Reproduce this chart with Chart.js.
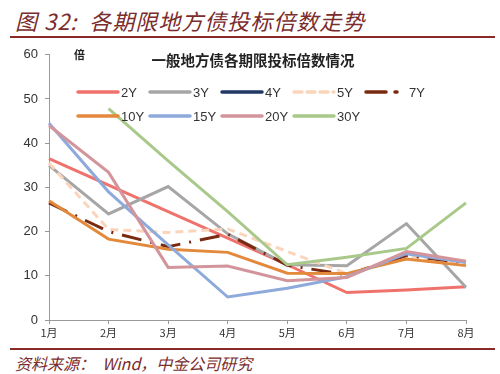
<!DOCTYPE html>
<html>
<head>
<meta charset="utf-8">
<script src="https://cdn.jsdelivr.net/npm/chart.js@4"></script>
<style>
    body { margin: 0; background: #fff; width: 500px; height: 374px; overflow: hidden; position: relative; }
    .fig-title {
        position: absolute; left: 15px; top: 4px;
        font: italic 22px "Noto Sans CJK SC", sans-serif;
        color: #7b2c2c; white-space: nowrap; letter-spacing: 1px;
    }
    .rule { position: absolute; left: 10px; width: 485px; height: 2px; background: #8b2a2a; }
    .source {
        position: absolute; left: 15px; top: 351px;
        font: italic 16px "Noto Sans CJK SC", sans-serif;
        color: #7b2c2c; white-space: nowrap;
    }
    #wrap { position: absolute; left: 0; top: 40px; width: 500px; height: 300px; }
</style>
</head>
<body>
<div class="fig-title">图 32:&nbsp; 各期限地方债投标倍数走势</div>
<div class="rule" style="top:36px"></div>
<div id="wrap"><canvas id="chart"></canvas></div>
<div class="rule" style="top:348px;height:1.5px"></div>
<div class="source">资料来源：&nbsp; Wind，中金公司研究</div>

<script>
// 数据
const months = ['1月', '2月', '3月', '4月', '5月', '6月', '7月', '8月'];
const y2 = [36.5, 30.5, 24.5, 18.5, 12.5, 6.2, 6.8, 7.5];
const y3 = [35, 24, 30.2, 19.5, 12.5, 12.3, 21.8, 7.4];
const y4 = [null, null, null, null, null, null, null, null];
const y5 = [35.5, 20.5, 19.8, 20.6, 15.5, 10.5, 14.5, 12.8];
const y7 = [26.5, 20, 16.6, 19.4, 12.4, 10.2, 14.6, 12.9];
const y10 = [27, 18.3, 16, 15.3, 10.6, 10.5, 13.8, 12.3];
const y15 = [44.5, 29, 17, 5.2, 7.2, 9.8, 15, 13];
const y20 = [44, 33.4, 11.9, 12.2, 8.9, 9.6, 15.5, 13.3];
const y30 = [null, 47.8, 36, 24.5, 12.5, 14.2, 16.2, 26.5];
const yTicks = [0, 10, 20, 30, 40, 50, 60];

const series = [
    { label: '2Y', data: y2, color: '#f0726c', dash: [] },
    { label: '3Y', data: y3, color: '#a6a6a6', dash: [] },
    { label: '4Y', data: y4, color: '#1f3864', dash: [] },
    { label: '5Y', data: y5, color: '#f9d5bc', dash: [8, 5] },
    { label: '7Y', data: y7, color: '#7b2a12', dash: [20, 9, 2, 9] },
    { label: '10Y', data: y10, color: '#e3893c', dash: [] },
    { label: '15Y', data: y15, color: '#8eaadb', dash: [] },
    { label: '20Y', data: y20, color: '#d3959b', dash: [] },
    { label: '30Y', data: y30, color: '#a9c98b', dash: [] },
];

// 图例和图内标题，画在绘图区里面
const innerLegend = {
    id: 'innerLegend',
    afterDraw(chart) {
        const ctx = chart.ctx;
        ctx.save();
        ctx.fillStyle = '#222';
        ctx.textBaseline = 'middle';
        ctx.font = 'bold 11px "Noto Sans CJK SC"';
        ctx.textAlign = 'left';
        ctx.fillText('倍', 74, 15);
        ctx.font = 'bold 14.5px "Noto Sans CJK SC"';
        ctx.textAlign = 'center';
        ctx.fillText('一般地方债各期限投标倍数情况', 253, 20);

        ctx.font = '13px "Liberation Sans", Arial';
        ctx.textAlign = 'left';
        series.forEach((s, i) => {
            const row = i < 5 ? 0 : 1;
            const col = i < 5 ? i : i - 5;
            const x = 78 + col * 72;
            const y = row === 0 ? 52 : 76;
            ctx.strokeStyle = s.color;
            ctx.lineWidth = 3.5;
            ctx.lineCap = 'round';
            ctx.setLineDash(s.dash);
            ctx.beginPath();
            ctx.moveTo(x, y);
            ctx.lineTo(x + 40, y);
            ctx.stroke();
            ctx.setLineDash([]);
            ctx.fillStyle = '#333';
            ctx.fillText(s.label, x + 43, y + 1);
        });
        ctx.restore();
    }
};

new Chart(document.getElementById('chart'), {
    type: 'line',
    data: {
        labels: months,
        datasets: series.map((s, i) => ({
            label: s.label,
            data: s.data,
            borderColor: s.color,
            backgroundColor: s.color,
            borderWidth: 3,
            borderDash: s.dash,
            pointRadius: 0,
            tension: 0,
            fill: false,
            spanGaps: false,
            order: -i
        }))
    },
    options: {
        responsive: true,
        maintainAspectRatio: false,
        animation: false,
        layout: { padding: { top: 10, right: 34, left: 0, bottom: 0 } },
        plugins: {
            legend: { display: false },
            tooltip: { enabled: false }
        },
        scales: {
            x: {
                offset: false,
                grid: { drawOnChartArea: false, color: '#999', tickLength: 4 },
                border: { color: '#999' },
                ticks: { color: '#333', font: { size: 11, family: '"Noto Sans CJK SC"' }, padding: 2, maxRotation: 0 },
                afterFit: s => { s.height = 20; }
            },
            y: {
                min: 0,
                max: 60,
                afterBuildTicks: s => { s.ticks = yTicks.map(v => ({ value: v })); },
                grid: { drawOnChartArea: false, color: '#999', tickLength: 4 },
                border: { color: '#999' },
                ticks: { color: '#333', font: { size: 13, family: '"Liberation Sans", Arial' }, padding: 7 },
                afterFit: s => { s.width = 49; }
            }
        }
    },
    plugins: [innerLegend]
});
</script>
</body>
</html>
